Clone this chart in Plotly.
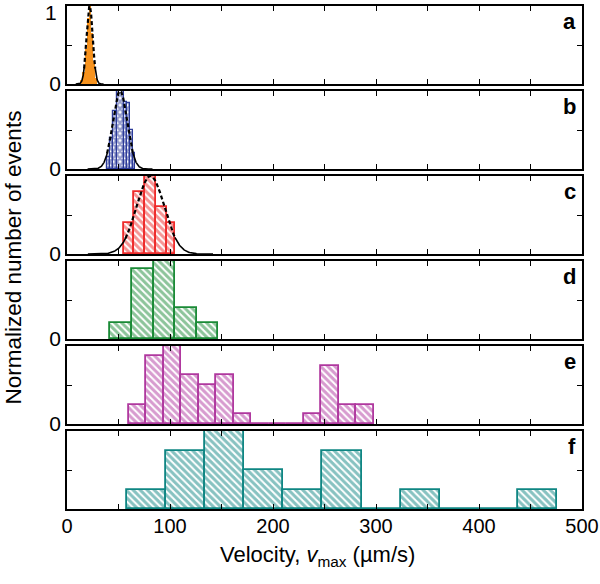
import numpy as np
import plotly.graph_objects as go
from plotly.subplots import make_subplots

# ---------------- data ----------------
panel_labels = ["a", "b", "c", "d", "e", "f"]

# histogram bin edges (µm/s) and normalized heights per panel
edges_a = [13, 15, 17, 19, 21, 23, 25, 27, 29]
heights_a = [0.05, 0.15, 0.45, 0.85, 1.0, 0.65, 0.3, 0.08]

edges_b = [39, 42, 45, 48.5, 55, 58, 61, 64, 66.2]
heights_b = [0.15, 0.4, 0.75, 1.0, 0.86, 0.85, 0.5, 0.2]

edges_c = [55, 65.5, 76, 86.5, 97, 105]
heights_c = [0.4, 0.8, 1.0, 0.6, 0.4]

edges_d = [42, 63, 84, 105, 126, 147]
counts_d = [2, 9, 10, 4, 2]

edges_e = [60, 77, 94, 111, 128, 145, 162, 179, 196, 213, 230, 247, 264, 281, 298]
counts_e = [2, 7, 8, 5, 4, 5, 1, 0, 0, 0, 1, 6, 2, 2]

edges_f = [58, 96, 134, 172, 210, 248, 286, 324, 362, 400, 438, 476]
counts_f = [1, 3, 4, 2, 1, 3, 0, 1, 0, 0, 1]

# Gaussian fits (mean, sd) for panels a-c
fit_a = (22.0, 3.0)
fit_b = (51.5, 7.0)
fit_c = (81.0, 13.5)

x_ticks = [0, 100, 200, 300, 400, 500]
x_title = "Velocity, <i>v</i><sub>max</sub> (µm/s)"
y_title = "Normalized number of events"

colors = ["#F7931E", "#2B3A99", "#EE2A2A", "#1A8A36", "#B0389F", "#0F8683"]

# ---------------- figure ----------------
FONT = "Liberation Sans, Arial, sans-serif"
W, H = 600, 584
ML, MR, MT, MB = 67, 18, 6, 75
PW = W - ML - MR
ph = H - MT - MB
gap = 7

fig = make_subplots(rows=6, cols=1, shared_xaxes=True,
                    vertical_spacing=gap / ph)

def norm(c):
    m = max(c)
    return [v / m for v in c]

hists = [
    (edges_a, heights_a),
    (edges_b, heights_b),
    (edges_c, heights_c),
    (edges_d, norm(counts_d)),
    (edges_e, norm(counts_e)),
    (edges_f, norm(counts_f)),
]
fits = [fit_a, fit_b, fit_c]

for i, (edges, h) in enumerate(hists):
    row = i + 1
    centers = [(edges[k] + edges[k + 1]) / 2 for k in range(len(h))]
    widths = [edges[k + 1] - edges[k] for k in range(len(h))]
    col = colors[i]
    if i == 0:
        marker = dict(color=col, line=dict(width=0))
    elif i == 1:
        marker = dict(color="white", line=dict(color=col, width=1.2),
                      pattern=dict(shape="x", fgcolor=col, bgcolor="white",
                                   size=5, solidity=0.75, fillmode="overlay"))
    else:
        marker = dict(color="white", line=dict(color=col, width=1.8),
                      pattern=dict(shape="\\", fgcolor=col, bgcolor="white",
                                   size=5, solidity=0.6, fillmode="overlay"))
    fig.add_trace(go.Bar(x=centers, y=h, width=widths, marker=marker,
                         showlegend=False, hoverinfo="skip"), row=row, col=1)

    if i < 3:
        mu, sd = fits[i]
        xs = np.linspace(mu - 4.5 * sd, mu + 4.5 * sd, 300)
        ys = np.exp(-0.5 * ((xs - mu) / sd) ** 2)
        inner = np.abs(xs - mu) <= 1.8 * sd
        left = xs <= mu - 1.75 * sd
        right = xs >= mu + 1.75 * sd
        for mask in (left, right):
            fig.add_trace(go.Scatter(x=xs[mask], y=ys[mask], mode="lines",
                                     line=dict(color="black", width=1.6),
                                     showlegend=False, hoverinfo="skip"),
                          row=row, col=1)
        fig.add_trace(go.Scatter(x=xs[inner], y=ys[inner], mode="lines",
                                 line=dict(color="black", width=2.2, dash="4px,2.5px"),
                                 showlegend=False, hoverinfo="skip"),
                      row=row, col=1)

    ytext = ["0", "", ""] if i < 5 else ["", "", ""]
    fig.update_yaxes(range=[0, 1], tickvals=[0, 0.5, 1], ticktext=ytext,
                     ticks="inside", ticklen=5, tickwidth=1.3, tickcolor="black",
                     showline=True, linecolor="black", linewidth=1.6, mirror="ticks",
                     showgrid=False, zeroline=False, fixedrange=True, automargin=False,
                     tickfont=dict(size=21, color="black", family=FONT),
                     row=row, col=1)
    fig.update_xaxes(range=[0, 500], tickvals=list(range(0, 501, 50)),
                     ticktext=[str(v) if v in x_ticks else "" for v in range(0, 501, 50)],
                     showticklabels=(row == 6), automargin=False,
                     ticks="inside", ticklen=5, tickwidth=1.3, tickcolor="black",
                     showline=True, linecolor="black", linewidth=1.6, mirror="ticks",
                     showgrid=False, zeroline=False, ticklabeloverflow="allow",
                     ticklabelstandoff=-2,
                     tickfont=dict(size=20, color="black", family=FONT),
                     row=row, col=1)

    xa = "x domain" if row == 1 else f"x{row} domain"
    ya = "y domain" if row == 1 else f"y{row} domain"
    fig.add_annotation(x=0.992, y=0.99, xref=xa, yref=ya, text=f"<b>{panel_labels[i]}</b>",
                       showarrow=False, xanchor="right", yanchor="top",
                       font=dict(size=22, color="black", family=FONT))

# the "1" tick label of panel a (drawn as text so it is not hidden at the page edge)
fig.add_annotation(x=-8 / PW, y=1.0, xref="paper", yref="y domain", text="1",
                   showarrow=False, xanchor="right", yanchor="middle", yshift=-6,
                   font=dict(size=21, color="black", family=FONT))

fig.add_annotation(x=(13 - ML) / PW, y=0.5, xref="paper", yref="paper",
                   text=y_title, textangle=-90, showarrow=False,
                   xanchor="center", yanchor="middle",
                   font=dict(size=22.5, color="black", family=FONT))
fig.add_annotation(x=0.5, y=1 - (556 - MT) / ph, xref="paper", yref="paper",
                   text=x_title, showarrow=False, xanchor="center", yanchor="middle",
                   xshift=-7,
                   font=dict(size=22, color="black", family=FONT))

fig.update_layout(width=W, height=H, margin=dict(l=ML, r=MR, t=MT, b=MB, autoexpand=False),
                  plot_bgcolor="white", paper_bgcolor="white",
                  bargap=0, barmode="overlay",
                  font=dict(family=FONT, color="black"))

fig.write_html("out.html", config={"displayModeBar": False},
               post_script="document.body.style.margin='0';document.body.style.overflow='hidden';")
